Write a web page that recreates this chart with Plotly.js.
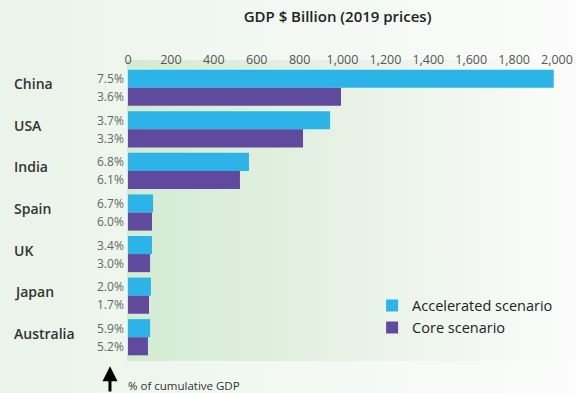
<!DOCTYPE html>
<html>
<head>
<meta charset="utf-8">
<script src="https://cdn.plot.ly/plotly-3.0.1.min.js"></script>
<style>
  html, body { margin: 0; padding: 0; }
  body { width: 576px; height: 393px; overflow: hidden; position: relative;
         background: linear-gradient(to right, #eaf4ea 0%, #f3f8f3 50%, #fbfcfb 100%); }
  #green { position: absolute; left: 127px; top: 60px; width: 449px; height: 301px;
           background: linear-gradient(to right, #d2ebd2 0%, #e3f0e1 40%, #f2f7f1 75%, #fbfcfb 100%); }
  #chart { position: absolute; left: 0; top: 0; width: 576px; height: 393px; }
</style>
</head>
<body>
<div id="green"></div>
<div id="chart"></div>
<script>
const countries = ["China", "USA", "India", "Spain", "UK", "Japan", "Australia"];
const accelerated = [1985, 942, 564, 117, 112, 107, 103];
const core = [993, 816, 522, 112, 103, 98, 93];
const accelPct = ["7.5%", "3.7%", "6.8%", "6.7%", "3.4%", "2.0%", "5.9%"];
const corePct = ["3.6%", "3.3%", "6.1%", "6.0%", "3.0%", "1.7%", "5.2%"];
const xTicks = [0, 200, 400, 600, 800, 1000, 1200, 1400, 1600, 1800, 2000];
const xTickText = ["0", "200", "400", "600", "800", "1,000", "1,200", "1,400", "1,600", "1,800", "2,000"];

const FONT = "Open Sans, Lato, sans-serif";

const traces = [
  { type: "bar", orientation: "h", name: "Accelerated scenario", y: countries, x: accelerated,
    marker: { color: "#2cb4e8" }, hoverinfo: "x+y" },
  { type: "bar", orientation: "h", name: "Core scenario", y: countries, x: core,
    marker: { color: "#5f4a9d" }, hoverinfo: "x+y" }
];

const annotations = [];
countries.forEach((c, i) => {
  annotations.push({ xref: "paper", yref: "y", x: -0.27, y: i, xanchor: "left", yanchor: "middle",
    yshift: 4, text: c, showarrow: false, font: { family: FONT, size: 14, weight: 600, color: "#333" } });
  annotations.push({ xref: "x", yref: "y", x: 0, y: i - 0.215, xanchor: "right", yanchor: "middle",
    xshift: -2, text: accelPct[i], showarrow: false, font: { family: FONT, size: 12, color: "#666" } });
  annotations.push({ xref: "x", yref: "y", x: 0, y: i + 0.215, xanchor: "right", yanchor: "middle",
    xshift: -2, text: corePct[i], showarrow: false, font: { family: FONT, size: 12, color: "#666" } });
});
annotations.push({ xref: "paper", yref: "paper", x: -0.042, y: -0.028, ax: 0, ay: 27,
  text: "", showarrow: true, arrowhead: 2, arrowsize: 1, arrowwidth: 3, arrowcolor: "#000" });
annotations.push({ xref: "paper", yref: "paper", x: -0.004, y: -0.095, xanchor: "left", yanchor: "middle",
  text: "% of cumulative GDP", showarrow: false, font: { family: FONT, size: 11.5, color: "#333" } });

const layout = {
  width: 576, height: 393,
  margin: { l: 128, r: 19, t: 67, b: 35 },
  paper_bgcolor: "rgba(0,0,0,0)", plot_bgcolor: "rgba(0,0,0,0)",
  barmode: "group", bargap: 0.13, bargroupgap: 0,
  font: { family: FONT, color: "#444" },
  title: { text: "GDP $ Billion (2019 prices)", x: 0.586, xanchor: "center", y: 0.957, yanchor: "middle",
           font: { family: FONT, size: 15, weight: 600, color: "#222" } },
  xaxis: { side: "top", range: [0, 2000], tickvals: xTicks, ticktext: xTickText, showgrid: false,
           zeroline: false, showline: false, ticks: "", fixedrange: true,
           tickfont: { family: FONT, size: 12.5, color: "#555" } },
  yaxis: { autorange: "reversed", showticklabels: false, showgrid: false, zeroline: false, ticks: "",
           showline: false, fixedrange: true },
  showlegend: true,
  legend: { x: 0.569, y: 0.235, xanchor: "left", yanchor: "top", bgcolor: "rgba(0,0,0,0)",
            font: { family: FONT, size: 14.5, color: "#222" }, tracegroupgap: 0 },
  annotations: annotations
};

Plotly.newPlot("chart", traces, layout, { displayModeBar: false, staticPlot: true });
</script>
</body>
</html>
